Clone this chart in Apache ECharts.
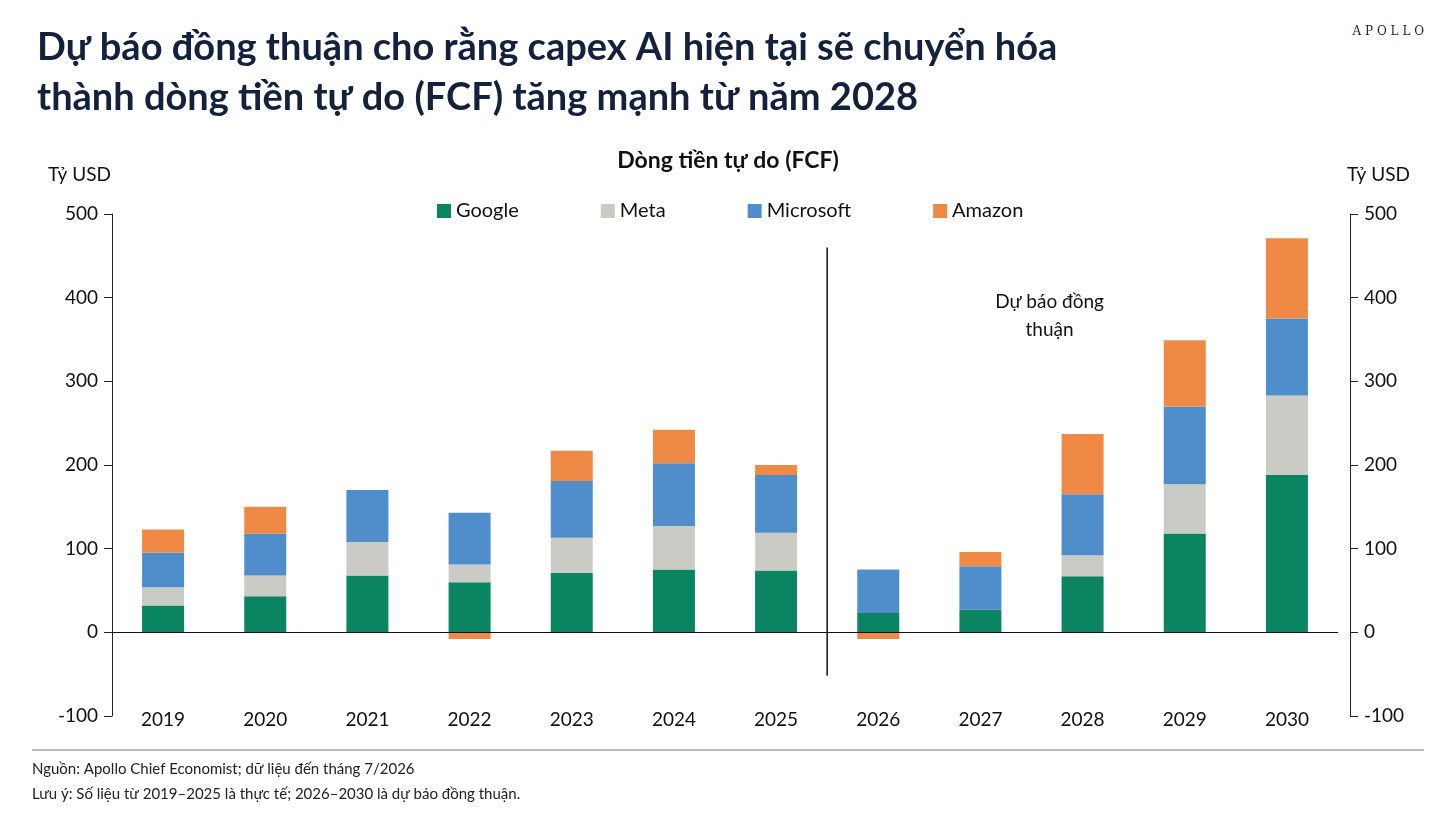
<!DOCTYPE html>
<html>
<head>
<meta charset="utf-8">
<script src="https://cdn.jsdelivr.net/npm/echarts@6/dist/echarts.min.js"></script>
<style>
html,body{margin:0;padding:0;background:#fff;}
#chart{width:1456px;height:819px;}
</style>
</head>
<body>
<div id="chart"></div>
<script>
var years = ['2019','2020','2021','2022','2023','2024','2025','2026','2027','2028','2029','2030'];
var google = [32, 43, 68, 60, 71, 75, 74, 23, 27, 67, 118, 188];
var meta = [22, 25, 40, 21, 42, 52, 45, 0, 0, 25, 59, 95];
var microsoft = [41, 50, 62, 62, 68, 75, 69, 52, 52, 73, 93, 92];
var amazon = [28, 32, 0, -8, 36, 40, 12, -8, 17, 72, 79, 96];
var yTicks = [-100, 0, 100, 200, 300, 400, 500];

var font = 'Lato, "Noto Sans", sans-serif';
var navy = '#14213d';

window.onload = function () {
    var chart = echarts.init(document.getElementById('chart'));

    function yAxisDef(pos) {
        return {
            type: 'value', position: pos, min: -100, max: 500, interval: 100,
            axisLine: {show: true, lineStyle: {color: '#222'}},
            axisTick: {show: true, length: 8, lineStyle: {color: '#222'}},
            splitLine: {show: false},
            axisLabel: {color: '#111', fontSize: 19, fontFamily: font, margin: 14}
        };
    }

    function bar(name, data, color) {
        return {
            name: name, type: 'bar', stack: 'fcf', data: data, barWidth: 42,
            itemStyle: {color: color}
        };
    }

    var series = [
        bar('Google', google, '#0b8461'),
        bar('Meta', meta, '#cbcbc6'),
        bar('Microsoft', microsoft, '#4f8dcb'),
        bar('Amazon', amazon, '#ee8a45')
    ];
    series[0].markLine = {
        symbol: 'none', silent: true, label: {show: false},
        lineStyle: {color: '#111', type: 'solid', width: 1.2},
        data: [{yAxis: 0}]
    };

    var option = {
        backgroundColor: '#fff',
        animation: false,
        textStyle: {fontFamily: font},
        title: [{
            text: 'Dự báo đồng thuận cho rằng capex AI hiện tại sẽ chuyển hóa\nthành dòng tiền tự do (FCF) tăng mạnh từ năm 2028',
            left: 32, top: 18,
            textStyle: {color: navy, fontSize: 38, fontWeight: 'bold', lineHeight: 50, fontFamily: font}
        }, {
            text: 'Dòng tiền tự do (FCF)', left: 'center', top: 144,
            textStyle: {color: '#111', fontSize: 23, fontWeight: 'bold', fontFamily: font}
        }],
        legend: {
            top: 196, left: 432, itemWidth: 14, itemHeight: 14, itemGap: 82,
            icon: 'rect',
            textStyle: {fontSize: 20, color: '#111', fontFamily: font},
            data: ['Google', 'Meta', 'Microsoft', 'Amazon']
        },
        grid: {left: 112, right: 118, top: 214, bottom: 103},
        xAxis: {
            type: 'category', data: years,
            axisLine: {show: false}, axisTick: {show: false},
            axisLabel: {color: '#111', fontSize: 19, fontFamily: font, margin: -6}
        },
        yAxis: [yAxisDef('left'), Object.assign(yAxisDef('right'), {offset: 12})],
        series: series,
        graphic: [
            {type: 'text', left: 48, top: 165, style: {text: 'Tỷ USD', fill: '#111', font: '19px ' + font}},
            {type: 'text', right: 46, top: 165, style: {text: 'Tỷ USD', fill: '#111', font: '19px ' + font}},
            {type: 'text', right: 32, top: 26, style: {text: 'A P O L L O', fill: navy, font: '12px "DejaVu Serif", serif'}},
            {type: 'line', shape: {x1: 32, y1: 750, x2: 1424, y2: 750}, style: {stroke: '#6b7890', lineWidth: 1}},
            {type: 'text', left: 32, top: 762, style: {text: 'Nguồn: Apollo Chief Economist; dữ liệu đến tháng 7/2026', fill: '#222', font: '15px ' + font}},
            {type: 'text', left: 32, top: 787, style: {text: 'Lưu ý: Số liệu từ 2019–2025 là thực tế; 2026–2030 là dự báo đồng thuận.', fill: '#222', font: '15px ' + font}}
        ]
    };
    chart.setOption(option);

    // divider between actual and forecast, plus annotation
    var a = chart.convertToPixel({xAxisIndex: 0}, '2025');
    var b = chart.convertToPixel({xAxisIndex: 0}, '2026');
    var mid = (a + b) / 2;
    var yTop = chart.convertToPixel({yAxisIndex: 0}, 460);
    var yBot = chart.convertToPixel({yAxisIndex: 0}, -52);
    var ax = chart.convertToPixel({xAxisIndex: 0}, '2028');
    var ay = chart.convertToPixel({yAxisIndex: 0}, 412);
    option.graphic.push(
        {type: 'line', shape: {x1: mid, y1: yTop, x2: mid, y2: yBot}, style: {stroke: '#111', lineWidth: 1.5}},
        {type: 'text', x: ax - 33, y: ay, style: {text: 'Dự báo đồng\nthuận', align: 'center', fill: '#111', font: '19px ' + font, lineHeight: 28}}
    );
    chart.setOption({graphic: option.graphic});
};
</script>
</body>
</html>
